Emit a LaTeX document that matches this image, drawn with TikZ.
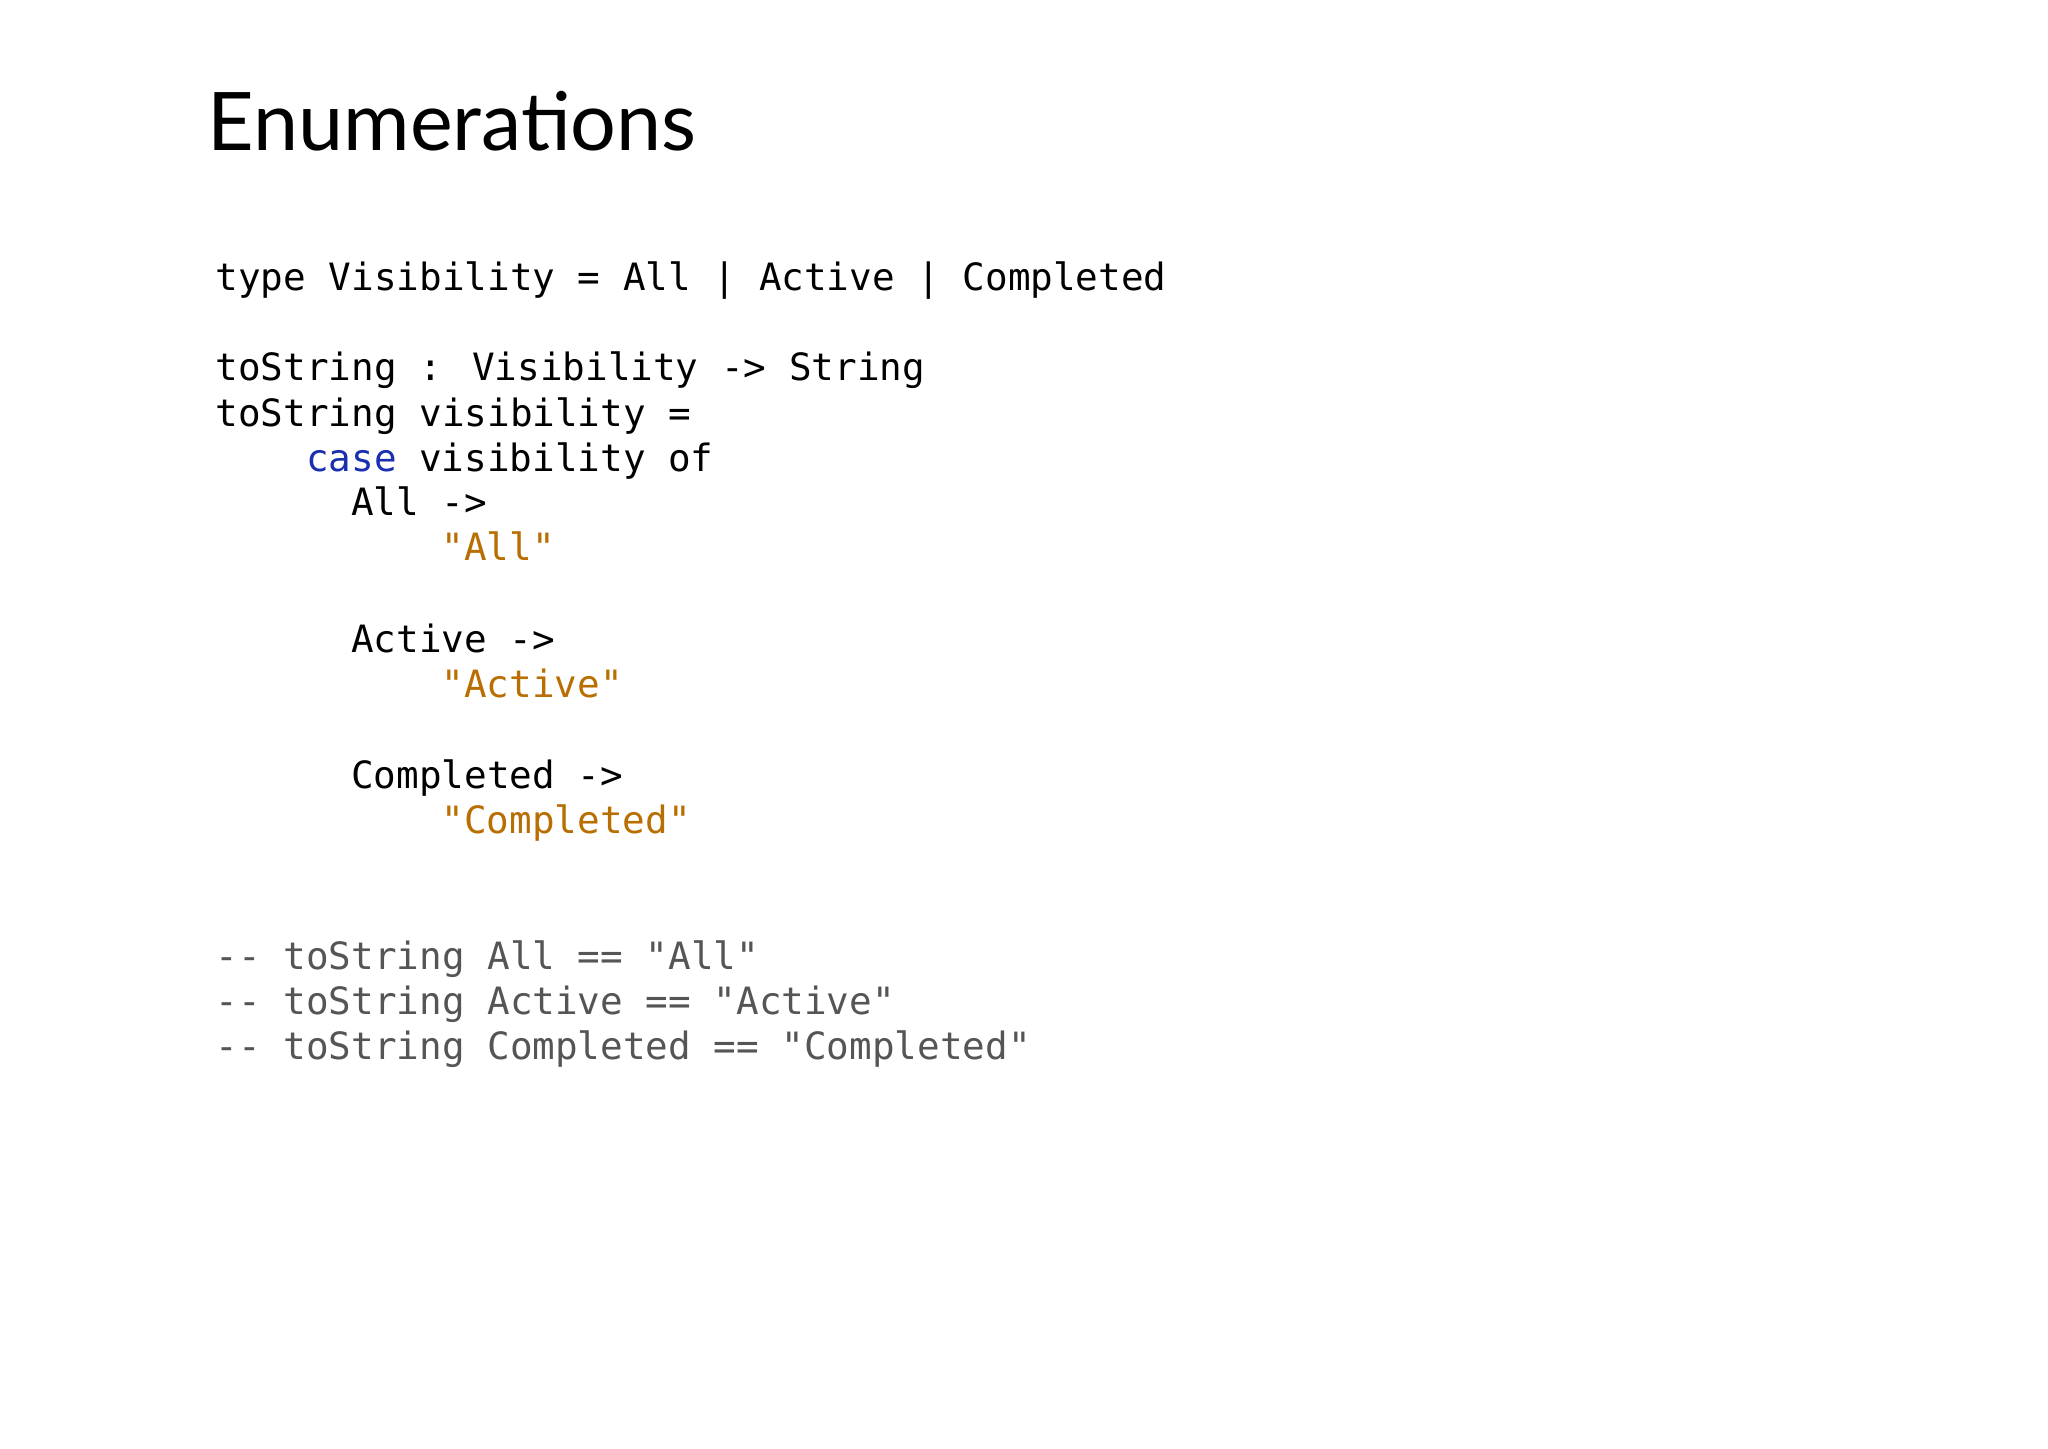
\documentclass[tikz,border=0pt]{standalone}
\usepackage{fontspec}
\setmainfont{Lato}
\newfontfamily\codefont{DejaVu Sans Mono}
\definecolor{kw}{HTML}{1A2FB0}
\definecolor{str}{HTML}{B86E00}
\definecolor{cmt}{HTML}{555555}
\begin{document}
\begin{tikzpicture}[x=1cm,y=1cm,
  code/.style={anchor=base west,inner sep=0pt,font=\codefont\fontsize{10.7pt}{12pt}\selectfont}]
\useasboundingbox[fill=white] (0,0) rectangle (20.48,-14.48);
\node[anchor=base west,inner sep=0pt,font=\fontsize{23pt}{26pt}\selectfont] (title) at (2.07,-1.50) {Enumerations};
\def\cx#1{2.15+#1*0.226}
\node[code] (l1) at ({\cx{0}},-2.90) {type Visibility = All | Active | Completed};
\node[code] (l2) at ({\cx{0}},-3.80) {toString : Visibility -> String};
\node[code] (l3) at ({\cx{0}},-4.26) {toString visibility =};
\node[code] (l4) at ({\cx{4}},-4.71) {\textcolor{kw}{case} visibility of};
\node[code] (l5) at ({\cx{6}},-5.15) {All ->};
\node[code,text=str] (l6) at ({\cx{10}},-5.60) {"All"};
\node[code] (l7) at ({\cx{6}},-6.52) {Active ->};
\node[code,text=str] (l8) at ({\cx{10}},-6.97) {"Active"};
\node[code] (l9) at ({\cx{6}},-7.88) {Completed ->};
\node[code,text=str] (l10) at ({\cx{10}},-8.33) {"Completed"};
\node[code,text=cmt] (c1) at ({\cx{0}},-9.69) {-- toString All == "All"};
\node[code,text=cmt] (c2) at ({\cx{0}},-10.14) {-- toString Active == "Active"};
\node[code,text=cmt] (c3) at ({\cx{0}},-10.59) {-- toString Completed == "Completed"};
\end{tikzpicture}
\end{document}
